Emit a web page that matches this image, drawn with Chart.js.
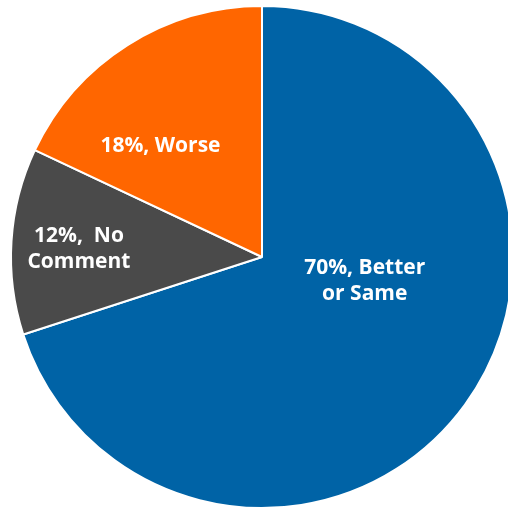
<!DOCTYPE html>
<html>
<head>
<meta charset="utf-8">
<script src="https://cdn.jsdelivr.net/npm/chart.js@4/dist/chart.umd.min.js"></script>
<style>
  html, body { margin: 0; padding: 0; background: #fff; overflow: hidden; }
  #wrap { width: 524px; height: 514px; }
</style>
</head>
<body>
<div id="wrap"><canvas id="pie" width="524" height="514"></canvas></div>
<script>
  var categories = ['Better or Same', 'No Comment', 'Worse'];
  var shares = [70, 12, 18];
  var labelLines = [['70%, Better', 'or Same'], ['12%,  No', 'Comment'], ['18%, Worse']];
  var sliceColors = ['#0063A6', '#4A4A4A', '#FF6600'];

  /* labels drawn inside each slice, nudged like the original best-fit placement */
  var sliceLabels = {
    id: 'sliceLabels',
    afterDatasetsDraw: function (chart, args, opts) {
      var ctx = chart.ctx;
      var arcs = chart.getDatasetMeta(0).data;
      ctx.save();
      ctx.fillStyle = '#fff';
      ctx.font = 'bold 21px "Open Sans", "DejaVu Sans", sans-serif';
      ctx.textAlign = 'center';
      ctx.textBaseline = 'middle';
      arcs.forEach(function (arc, i) {
        var p = arc.getProps(['x', 'y', 'startAngle', 'endAngle', 'outerRadius'], true);
        var mid = (p.startAngle + p.endAngle) / 2 + opts.shift[i] * Math.PI / 180;
        var r = p.outerRadius * opts.dist[i];
        var cx = p.x + Math.cos(mid) * r;
        var cy = p.y + Math.sin(mid) * r;
        var lines = labelLines[i];
        var lh = 26;
        lines.forEach(function (t, k) {
          ctx.fillText(t, cx, cy + (k - (lines.length - 1) / 2) * lh);
        });
      });
      ctx.restore();
    }
  };

  new Chart(document.getElementById('pie'), {
    type: 'pie',
    data: {
      labels: categories,
      datasets: [{
        data: shares,
        backgroundColor: sliceColors,
        borderColor: '#fff',
        borderWidth: 2
      }]
    },
    options: {
      responsive: false,
      animation: false,
      layout: { padding: 5 },
      plugins: {
        legend: { display: false },
        tooltip: { enabled: false },
        sliceLabels: { dist: [0.42, 0.73, 0.6], shift: [-23, -1, -10] }
      }
    },
    plugins: [sliceLabels]
  });
</script>
</body>
</html>
